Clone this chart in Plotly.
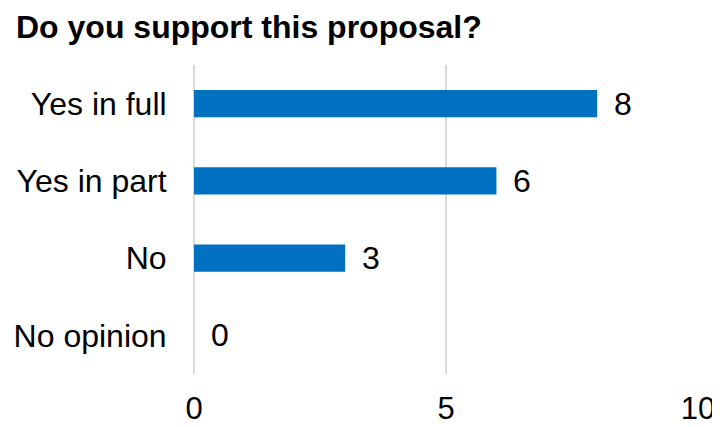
import plotly.graph_objects as go

categories = ["Yes in full", "Yes in part", "No", "No opinion"]
values = [8, 6, 3, 0]
x_ticks = [0, 5, 10]
title_text = "Do you support this proposal?"

FONT = "Liberation Sans, Arial, sans-serif"

# the page body adds an 8px margin, so the figure is sized to fit the window
W, H = 712, 419

fig = go.Figure()
fig.add_trace(go.Bar(
    y=categories, x=values, orientation="h",
    marker=dict(color="#0070C0", line=dict(width=0)),
    width=0.35, hoverinfo="skip",
))

for c, v in zip(categories, values):
    fig.add_annotation(x=v, y=c, text=str(v), showarrow=False,
                       xanchor="left", xshift=15,
                       font=dict(family=FONT, size=32, color="#000000"))

fig.update_layout(
    width=W, height=H,
    margin=dict(l=186, r=22, t=57, b=53, autoexpand=False),
    paper_bgcolor="white", plot_bgcolor="white",
    showlegend=False,
    font=dict(family=FONT, size=32, color="#000000"),
    title=dict(text="<b>" + title_text + "</b>", x=8/W, xanchor="left",
               xref="container", y=1 - 19/H, yanchor="middle", yref="container",
               pad=dict(l=0, r=0, t=0, b=0),
               font=dict(family=FONT, size=32, color="#000000")),
    xaxis=dict(range=[0, 10], tickvals=x_ticks, showgrid=True,
               gridcolor="#D9D9D9", gridwidth=1.5, zeroline=True,
               zerolinecolor="#D9D9D9", zerolinewidth=1.5,
               ticks="outside", ticklen=7, tickcolor="rgba(0,0,0,0)",
               tickfont=dict(family=FONT, size=31, color="#000000"),
               showline=False, fixedrange=True, automargin=False),
    yaxis=dict(categoryorder="array", categoryarray=categories[::-1],
               ticks="outside", ticklen=20, tickcolor="rgba(0,0,0,0)",
               showgrid=False, showline=False, fixedrange=True, automargin=False),
)

fig.write_html("out.html")
